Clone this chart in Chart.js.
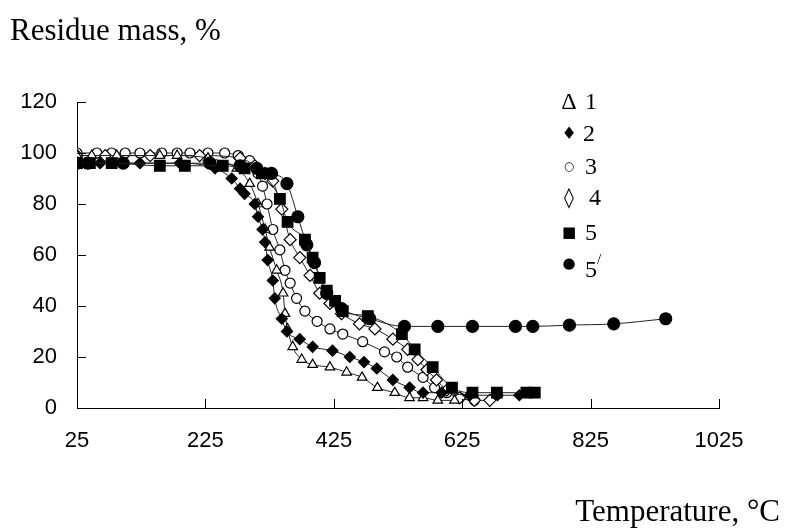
<!DOCTYPE html>
<html>
<head>
<meta charset="utf-8">
<script src="https://cdn.jsdelivr.net/npm/chart.js@4.4.0/dist/chart.umd.min.js"></script>
<style>
  html, body { margin: 0; padding: 0; background: #fff; }
  #wrap { position: relative; width: 786px; height: 529px; }
  canvas { position: absolute; left: 0; top: 0; }
  .title { position: absolute; font-family: "Liberation Serif", "Times New Roman", serif; font-size: 31px; color: #000; line-height: 1; white-space: nowrap; }
  .leg { position: absolute; left: 560px; height: 30px; font-family: "Liberation Serif", "Times New Roman", serif; font-size: 24px; color: #000; line-height: 30px; white-space: nowrap; }
  .leg .sym { position: absolute; left: 0; top: 0; width: 18px; text-align: center; }
  .leg .num { position: absolute; left: 25px; top: 0; }
  .leg sup { font-size: 15px; position: relative; top: -4px; }
</style>
</head>
<body>
<div id="wrap">
  <canvas id="chart" width="786" height="529"></canvas>
  <div class="title" style="left:10px; top:14px;">Residue mass, %</div>
  <div class="title" style="right:6px; top:495px;">Temperature, °C</div>
  <div class="leg" style="top:86px;"><span class="sym">Δ</span><span class="num">1</span></div>
  <div class="leg" style="top:118px;"><span class="sym" style="font-family:'DejaVu Sans';font-size:17px;">♦</span><span class="num" style="left:23px;">2</span></div>
  <div class="leg" style="top:151px;"><span class="sym" style="font-family:'DejaVu Sans';font-size:12px;">○</span><span class="num">3</span></div>
  <div class="leg" style="top:182px;"><span class="sym" style="font-family:'DejaVu Sans';font-size:20px;">◊</span><span class="num" style="left:29px;">4</span></div>
  <div class="leg" style="top:217px;"><span class="sym" style="font-family:'DejaVu Sans';font-size:15px;">■</span><span class="num">5</span></div>
  <div class="leg" style="top:248px;"><span class="sym" style="font-family:'DejaVu Sans';font-size:15px;">●</span><span class="num">5<sup>/</sup></span></div>
</div>
<script>
// ─── Data ──────────────────────────────────────────────────────────────────
const X_TICKS = [25, 225, 425, 625, 825, 1025];
const Y_TICKS = [0, 20, 40, 60, 80, 100, 120];

const temp1 = [25, 48, 87, 154, 181, 229, 274, 294, 307, 318, 325, 336, 346, 349, 353, 361, 375, 392, 419, 445, 469, 493, 520, 543, 564, 587, 613];
const mass1 = [99, 99, 99, 99, 99, 98, 94, 88, 80, 70, 63, 54, 45, 37, 31, 24, 19, 17, 16, 14, 12, 8, 6, 4, 4, 3, 3];

const temp2 = [25, 61, 123, 185, 240, 266, 279, 286, 302, 307, 314, 318, 322, 330, 333, 344, 352, 372, 392, 423, 450, 472, 492, 517, 543, 564, 593, 637, 680, 714];
const mass2 = [96, 96, 96, 96, 94, 90, 86, 84, 80, 75, 70, 65, 58, 50, 43, 35, 30, 27, 24, 22.5, 20, 18, 15.5, 11, 8, 6, 6, 5, 5, 5];

const temp3 = [25, 56, 79, 100, 123, 157, 181, 201, 229, 255, 276, 294, 307, 314, 321, 330, 341, 349, 357, 367, 380, 399, 419, 439, 470, 504, 523, 540, 564, 582, 601, 621, 644];
const mass3 = [100, 100, 100, 100, 100, 100, 100, 100, 100, 100, 99, 97, 92, 87, 80, 70, 62, 54, 49, 43, 38, 34, 31, 29, 26, 22, 20, 16, 12, 8, 6, 4, 3];

const temp4 = [25, 69, 139, 216, 279, 302, 318, 330, 344, 357, 372, 388, 403, 419, 437, 465, 489, 517, 540, 556, 570, 585, 601, 621, 644, 668];
const mass4 = [99, 99, 99, 99, 98, 95, 92, 89, 78, 66, 59, 52, 45, 41, 37, 33, 31, 27, 23, 19, 15, 11, 7, 4, 3, 3];

const temp5 = [25, 45, 79, 154, 193, 252, 286, 313, 341, 353, 380, 392, 403, 414, 427, 439, 478, 531, 551, 579, 609, 641, 679, 725, 738];
const mass5 = [96, 96, 96, 95, 95, 95, 94, 92, 82, 73, 66, 59, 51, 46, 42, 38, 36, 29, 23, 16, 8, 6, 6, 6, 6];

const temp5p = [25, 42, 97, 232, 279, 305, 328, 352, 369, 383, 395, 414, 437, 481, 535, 587, 641, 708, 735, 792, 861, 942];
const mass5p = [96, 96, 96, 96, 95, 94, 92, 88, 75, 64, 57, 45, 39, 35, 32, 32, 32, 32, 32, 32.5, 33, 35];

// ─── Helpers ───────────────────────────────────────────────────────────────
const pts = (t, m) => t.map((v, i) => ({ x: v, y: m[i] }));

function series(label, t, m, style, radius, filled, order) {
  return {
    label, data: pts(t, m), showLine: true,
    borderColor: '#222', borderWidth: 1, cubicInterpolationMode: 'monotone',
    pointStyle: style, pointRadius: radius,
    pointBackgroundColor: filled ? '#000' : '#fff',
    pointBorderColor: '#000', pointBorderWidth: 1.2, order
  };
}

// inside tick marks, drawn from the scales
const innerTicks = {
  id: 'innerTicks',
  afterDraw(chart) {
    const { ctx, chartArea: a, scales: { x, y } } = chart;
    ctx.save();
    ctx.strokeStyle = '#000';
    ctx.lineWidth = 1;
    ctx.beginPath();
    X_TICKS.forEach(v => { const px = Math.round(x.getPixelForValue(v)) + 0.5; ctx.moveTo(px, a.bottom); ctx.lineTo(px, a.bottom - 9); });
    Y_TICKS.forEach(v => { const py = Math.round(y.getPixelForValue(v)) + 0.5; ctx.moveTo(a.left, py); ctx.lineTo(a.left + 9, py); });
    ctx.stroke();
    ctx.restore();
  }
};

const TICK_FONT = { family: '"Liberation Sans", Arial, sans-serif', size: 22 };

new Chart(document.getElementById('chart'), {
  type: 'scatter',
  data: {
    datasets: [
      series('5', temp5, mass5, 'rect', 7.5, true, 1),
      series("5'", temp5p, mass5p, 'circle', 6, true, 2),
      series('2', temp2, mass2, 'rectRot', 5.5, true, 3),
      series('1', temp1, mass1, 'triangle', 5.5, false, 4),
      series('4', temp4, mass4, 'rectRot', 6, false, 5),
      series('3', temp3, mass3, 'circle', 5, false, 6),
    ]
  },
  options: {
    responsive: false, animation: false,
    layout: { padding: { left: 0, right: 67, top: 102, bottom: 0 } },
    plugins: { legend: { display: false }, tooltip: { enabled: false } },
    scales: {
      x: {
        type: 'linear', min: 25, max: 1025,
        afterBuildTicks: s => { s.ticks = X_TICKS.map(v => ({ value: v })); },
        afterFit: s => { s.height = 121; },
        grid: { drawOnChartArea: false, drawTicks: false },
        border: { display: true, color: '#000', width: 1 },
        ticks: { color: '#000', font: TICK_FONT, padding: 20, maxRotation: 0, callback: v => String(v) }
      },
      y: {
        type: 'linear', min: 0, max: 120,
        afterBuildTicks: s => { s.ticks = Y_TICKS.map(v => ({ value: v })); },
        afterFit: s => { s.width = 77; },
        grid: { drawOnChartArea: false, drawTicks: false },
        border: { display: true, color: '#000', width: 1 },
        ticks: { color: '#000', font: TICK_FONT, padding: 20, callback: v => String(v) }
      }
    }
  },
  plugins: [innerTicks]
});
</script>
</body>
</html>
